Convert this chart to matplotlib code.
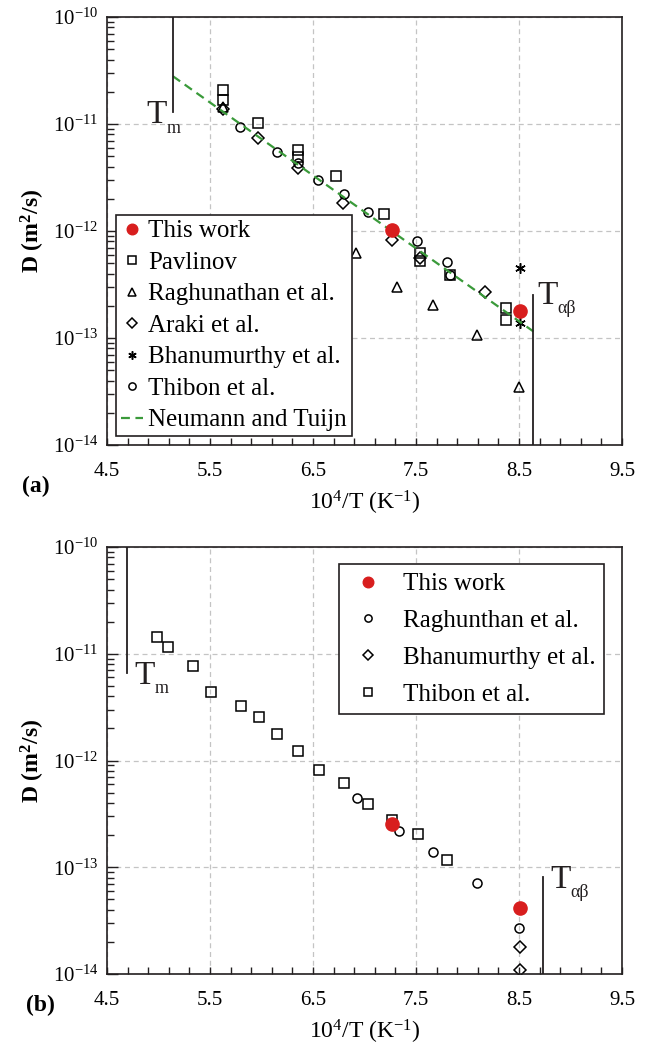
import numpy as np
import matplotlib
matplotlib.use("Agg")
import matplotlib.pyplot as plt
from matplotlib.ticker import FixedLocator, NullFormatter, FuncFormatter

plt.rcParams['font.family'] = ['Liberation Serif', 'DejaVu Serif']
plt.rcParams['mathtext.fontset'] = 'custom'
plt.rcParams['mathtext.rm'] = 'Liberation Serif'
plt.rcParams['mathtext.it'] = 'Liberation Serif:italic'
plt.rcParams['mathtext.bf'] = 'Liberation Serif:bold'

# ---------------- panel (a) ----------------
a_this_x = [7.27, 8.51]
a_this_d = [1.02e-12, 1.78e-13]

a_pav_x = [5.63, 5.63, 5.97, 6.35, 6.35, 6.72, 7.19, 7.54, 7.54, 7.83, 8.37, 8.37]
a_pav_d = [2.08e-11, 1.68e-11, 1.02e-11, 5.7e-12, 4.9e-12, 3.27e-12, 1.44e-12,
           6.2e-13, 5.2e-13, 3.9e-13, 1.9e-13, 1.48e-13]

a_rag_x = [5.63, 6.92, 7.32, 7.66, 8.09, 8.50]
a_rag_d = [1.45e-11, 6.2e-13, 3.0e-13, 2.05e-13, 1.07e-13, 3.5e-14]

a_ara_x = [5.63, 5.97, 6.35, 6.79, 7.27, 7.54, 8.17]
a_ara_d = [1.38e-11, 7.4e-12, 3.9e-12, 1.82e-12, 8.3e-13, 5.6e-13, 2.7e-13]

a_bha_x = [8.51, 8.51]
a_bha_d = [4.5e-13, 1.39e-13]

a_thi_x = [5.79, 6.15, 6.35, 6.55, 6.80, 7.03, 7.51, 7.80, 7.83]
a_thi_d = [9.3e-12, 5.5e-12, 4.3e-12, 3.0e-12, 2.2e-12, 1.5e-12, 8.1e-13, 5.1e-13, 3.9e-13]

a_neu_x = [5.14, 8.64]
a_neu_d = [2.8e-11, 1.15e-13]

# ---------------- panel (b) ----------------
b_this_x = [7.27, 8.51]
b_this_d = [2.57e-13, 4.2e-14]

b_rag_x = [6.93, 7.33, 7.66, 8.09, 8.50]
b_rag_d = [4.5e-13, 2.2e-13, 1.38e-13, 7.2e-14, 2.7e-14]

b_bha_x = [8.51, 8.51]
b_bha_d = [1.78e-14, 1.1e-14]

b_thi_x = [4.99, 5.09, 5.34, 5.51, 5.80, 5.98, 6.15, 6.35, 6.56, 6.80, 7.03, 7.27, 7.52, 7.80]
b_thi_d = [1.44e-11, 1.16e-11, 7.7e-12, 4.4e-12, 3.27e-12, 2.57e-12, 1.78e-12, 1.24e-12,
           8.2e-13, 6.1e-13, 3.9e-13, 2.8e-13, 2.04e-13, 1.17e-13]

# temperature markers: (x, end of line, label x, label baseline)
a_tm = (5.14, 1.3e-11, 4.88, 1.02e-11)
a_tab = (8.636, 2.5e-13, 8.68, 2.1e-13)
b_tm = (4.694, 6.6e-12, 4.77, 5.25e-12)
b_tab = (8.733, 8.1e-14, 8.80, 6.45e-14)

x_major = [4.5, 5.5, 6.5, 7.5, 8.5, 9.5]
y_major = [1e-14, 1e-13, 1e-12, 1e-11, 1e-10]

RED = '#d81e1e'
GREEN = '#3a9a3a'
DARK = '#231f20'


def log_label(v, pos):
    e = int(round(np.log10(v)))
    return r'10$^{\mathregular{%d}}$' % e


def style_axes(ax):
    ax.set_xlim(4.5, 9.5)
    ax.set_yscale('log')
    ax.set_ylim(1e-14, 1e-10)
    ax.xaxis.set_major_locator(FixedLocator(x_major))
    ax.xaxis.set_minor_locator(FixedLocator(np.arange(4.5, 9.51, 0.2)))
    ax.yaxis.set_major_locator(FixedLocator(y_major))
    minors = [m * 10.0 ** e for e in range(-14, -10) for m in range(2, 10)]
    ax.yaxis.set_minor_locator(FixedLocator(minors))
    ax.yaxis.set_major_formatter(FuncFormatter(log_label))
    ax.yaxis.set_minor_formatter(NullFormatter())
    ax.tick_params(axis='x', which='both', direction='in', length=5, width=1,
                   color=DARK, labelsize=15, pad=12, top=False)
    ax.tick_params(axis='y', which='major', direction='in', length=8, width=1,
                   color=DARK, labelsize=15, pad=6, right=False)
    ax.tick_params(axis='y', which='minor', direction='in', length=5, width=1,
                   color=DARK, right=False)
    ax.grid(True, which='major', ls=(0, (4, 3)), color='#c4c4c4', lw=0.9)
    for s in ax.spines.values():
        s.set_color(DARK)
        s.set_linewidth(1.2)
    ax.set_xlabel(r'10$^{\mathregular{4}}$/T (K$^{\mathregular{-1}}$)', fontsize=17, labelpad=6)
    ax.set_ylabel(r'D (m$^{\mathregular{2}}$/s)', fontsize=17, fontweight='bold', labelpad=4)


def temp_marker(ax, tm, sub, to_top):
    x, end, lx, ly = tm
    ax.plot([x, x], [end, 1e-10 if to_top else 1e-14], color=DARK, lw=1.3, zorder=3)
    ax.text(lx, ly, 'T', fontsize=24, color=DARK, ha='left', va='baseline')
    ax.annotate(sub, xy=(lx, ly), xytext=(14.5, -7), textcoords='offset points',
                fontsize=13, color=DARK, ha='left', va='baseline')


fig = plt.figure(figsize=(6.48, 10.46), dpi=100)
ax1 = fig.add_axes([0.165, 0.5746, 0.795, 0.4091])
ax2 = fig.add_axes([0.165, 0.0688, 0.795, 0.4082])

ms_open = dict(mfc='none', mec='black', mew=1.1, ls='none')

# (a)
style_axes(ax1)
ax1.plot(a_this_x, a_this_d, 'o', color=RED, ms=9.5, ls='none', label='This work', zorder=5)
ax1.plot(a_pav_x, a_pav_d, 's', ms=6.5, label='Pavlinov', **ms_open)
ax1.plot(a_rag_x, a_rag_d, '^', ms=7, label='Raghunathan et al.', **ms_open)
ax1.plot(a_ara_x, a_ara_d, 'D', ms=5.8, label='Araki et al.', **ms_open)
ax1.plot(a_bha_x, a_bha_d, marker=(6, 2, 0), ms=7.5, label='Bhanumurthy et al.', **ms_open)
ax1.plot(a_thi_x, a_thi_d, 'o', ms=6.5, label='Thibon et al.', **ms_open)
ax1.plot(a_neu_x, a_neu_d, ls=(0, (4, 2.5)), color=GREEN, lw=1.6, label='Neumann and Tuijn')
temp_marker(ax1, a_tm, 'm', True)
temp_marker(ax1, a_tab, 'αβ', False)
leg1 = ax1.legend(loc='lower left', bbox_to_anchor=(0.017, 0.02), fontsize=18, frameon=True,
                  fancybox=False, edgecolor=DARK, framealpha=1, markerscale=0.8,
                  handlelength=0.9, handletextpad=0.2, labelspacing=0.36, borderpad=0.2,
                  borderaxespad=0)
leg1.get_frame().set_linewidth(1.2)
fig.text(0.055, 0.535, '(a)', fontsize=17, fontweight='bold', ha='center', va='center')

# (b)
style_axes(ax2)
ax2.plot(b_this_x, b_this_d, 'o', color=RED, ms=9.5, ls='none', label='This work', zorder=5)
ax2.plot(b_rag_x, b_rag_d, 'o', ms=6.5, label='Raghunthan et al.', **ms_open)
ax2.plot(b_bha_x, b_bha_d, 'D', ms=5.8, label='Bhanumurthy et al.', **ms_open)
ax2.plot(b_thi_x, b_thi_d, 's', ms=6.5, label='Thibon et al.', **ms_open)
temp_marker(ax2, b_tm, 'm', True)
temp_marker(ax2, b_tab, 'αβ', False)
leg2 = ax2.legend(loc='upper right', bbox_to_anchor=(0.965, 0.96), fontsize=18, frameon=True,
                  fancybox=False, edgecolor=DARK, framealpha=1, markerscale=0.8,
                  handlelength=1.6, handletextpad=0.6, labelspacing=0.57, borderpad=0.35,
                  borderaxespad=0)
leg2.get_frame().set_linewidth(1.2)
fig.text(0.062, 0.039, '(b)', fontsize=17, fontweight='bold', ha='center', va='center')

fig.savefig('out.png', dpi=100, facecolor='white')
